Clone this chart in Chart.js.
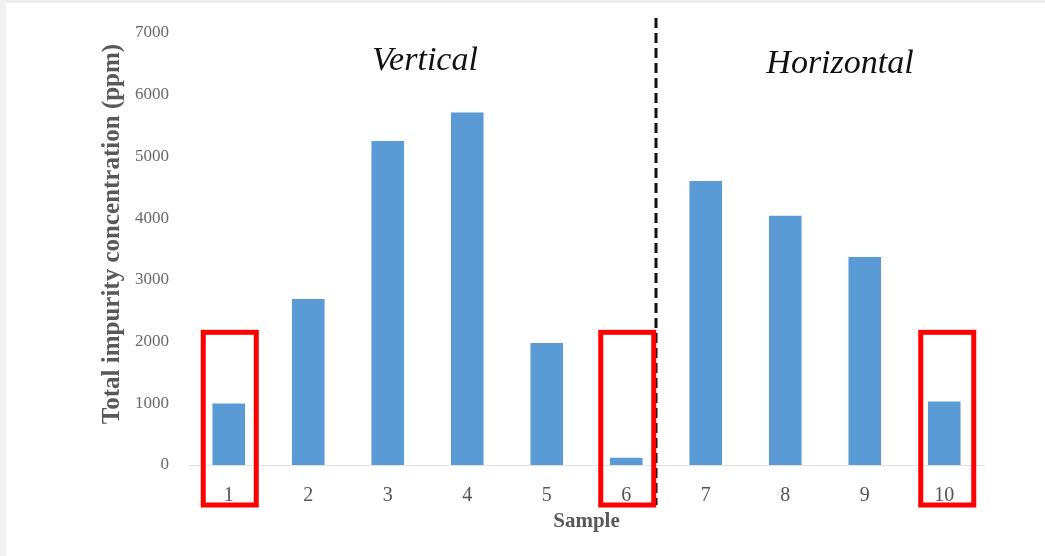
<!DOCTYPE html>
<html>
<head>
<meta charset="utf-8">
<script src="https://cdn.jsdelivr.net/npm/chart.js@4.4.1/dist/chart.umd.min.js"></script>
<style>
  html, body { margin: 0; padding: 0; background: #fff; }
  #wrap { position: relative; width: 1045px; height: 556px; }
  #edgeTop { position: absolute; left: 0; top: 0; width: 1045px; height: 3px; background: #ececec; }
  #edgeLeft { position: absolute; left: 0; top: 0; width: 6px; height: 556px; background: #f1f1f1; }
  canvas { position: absolute; left: 0; top: 0; }
</style>
</head>
<body>
<div id="wrap">
  <div id="edgeTop"></div>
  <div id="edgeLeft"></div>
  <canvas id="chart" width="1045" height="556"></canvas>
</div>
<script>
// ── data ──
var samples = ['1', '2', '3', '4', '5', '6', '7', '8', '9', '10'];
var impurity = [995, 2690, 5250, 5710, 1975, 118, 4600, 4040, 3370, 1030];
var yTicks = [0, 1000, 2000, 3000, 4000, 5000, 6000, 7000];
var groupLabels = ['Vertical', 'Horizontal'];
var yTitle = 'Total impurity concentration (ppm)';
var highlighted = [0, 5, 9];   // sample indexes boxed in red

var serif = '"Liberation Serif", "Times New Roman", "DejaVu Serif", serif';

// dashed divider, red boxes, group captions and the rotated y title
var annotations = {
    id: 'annotations',
    afterDraw: function (chart) {
        var ctx = chart.ctx;
        var x = chart.scales.x, y = chart.scales.y, area = chart.chartArea;

        // divider between samples 6 and 7
        var divX = (x.getPixelForValue(5) + x.getPixelForValue(6)) / 2 - 10;
        ctx.save();
        ctx.strokeStyle = '#111';
        ctx.lineWidth = 3;
        ctx.setLineDash([10, 5]);
        ctx.beginPath();
        ctx.moveTo(divX, 18);
        ctx.lineTo(divX, area.bottom + 40);
        ctx.stroke();
        ctx.restore();

        // red highlight boxes
        ctx.save();
        ctx.strokeStyle = '#ff0000';
        ctx.lineWidth = 5;
        highlighted.forEach(function (i) {
            var cx = x.getPixelForValue(i) + (i === 9 ? 3 : 1);
            var top = y.getPixelForValue(2150);
            ctx.strokeRect(cx - 26.5, top, 53, area.bottom + 40 - top);
        });
        ctx.restore();

        // group captions
        ctx.save();
        ctx.fillStyle = '#111';
        ctx.font = 'italic 34px ' + serif;
        ctx.textAlign = 'center';
        ctx.textBaseline = 'middle';
        ctx.fillText(groupLabels[0], 425, 61);
        ctx.fillText(groupLabels[1], 840, 64);
        ctx.restore();

        // y axis title
        ctx.save();
        ctx.translate(113, 234);
        ctx.rotate(-Math.PI / 2);
        ctx.fillStyle = '#595959';
        ctx.font = 'bold 25px ' + serif;
        ctx.textAlign = 'center';
        ctx.textBaseline = 'middle';
        ctx.fillText(yTitle, 0, 0);
        ctx.restore();
    }
};

new Chart(document.getElementById('chart').getContext('2d'), {
    type: 'bar',
    data: {
        labels: samples,
        datasets: [{
            data: impurity,
            backgroundColor: '#5b9bd5',
            categoryPercentage: 1,
            barPercentage: 0.41
        }]
    },
    options: {
        responsive: false,
        animation: false,
        layout: { padding: { left: 100, right: 61, top: 33, bottom: 22 } },
        plugins: { legend: { display: false }, tooltip: { enabled: false } },
        scales: {
            x: {
                grid: { display: false },
                border: { color: '#e3e3e3', width: 1 },
                ticks: { color: '#555', padding: 11, font: { family: serif, size: 20 } },
                title: {
                    display: true, text: 'Sample', color: '#595959',
                    padding: 0, font: { family: serif, size: 21, weight: 'bold' }
                },
                afterFit: function (scale) { scale.height = 69; }
            },
            y: {
                min: 0, max: 7000,
                grid: { display: false },
                border: { display: false },
                afterBuildTicks: function (scale) {
                    scale.ticks = yTicks.map(function (v) { return { value: v }; });
                },
                ticks: {
                    color: '#6a6a6a', padding: 12, font: { family: serif, size: 17 },
                    callback: function (v) { return String(v); }
                },
                afterFit: function (scale) { scale.width = 89; }
            }
        }
    },
    plugins: [annotations]
});
</script>
</body>
</html>
